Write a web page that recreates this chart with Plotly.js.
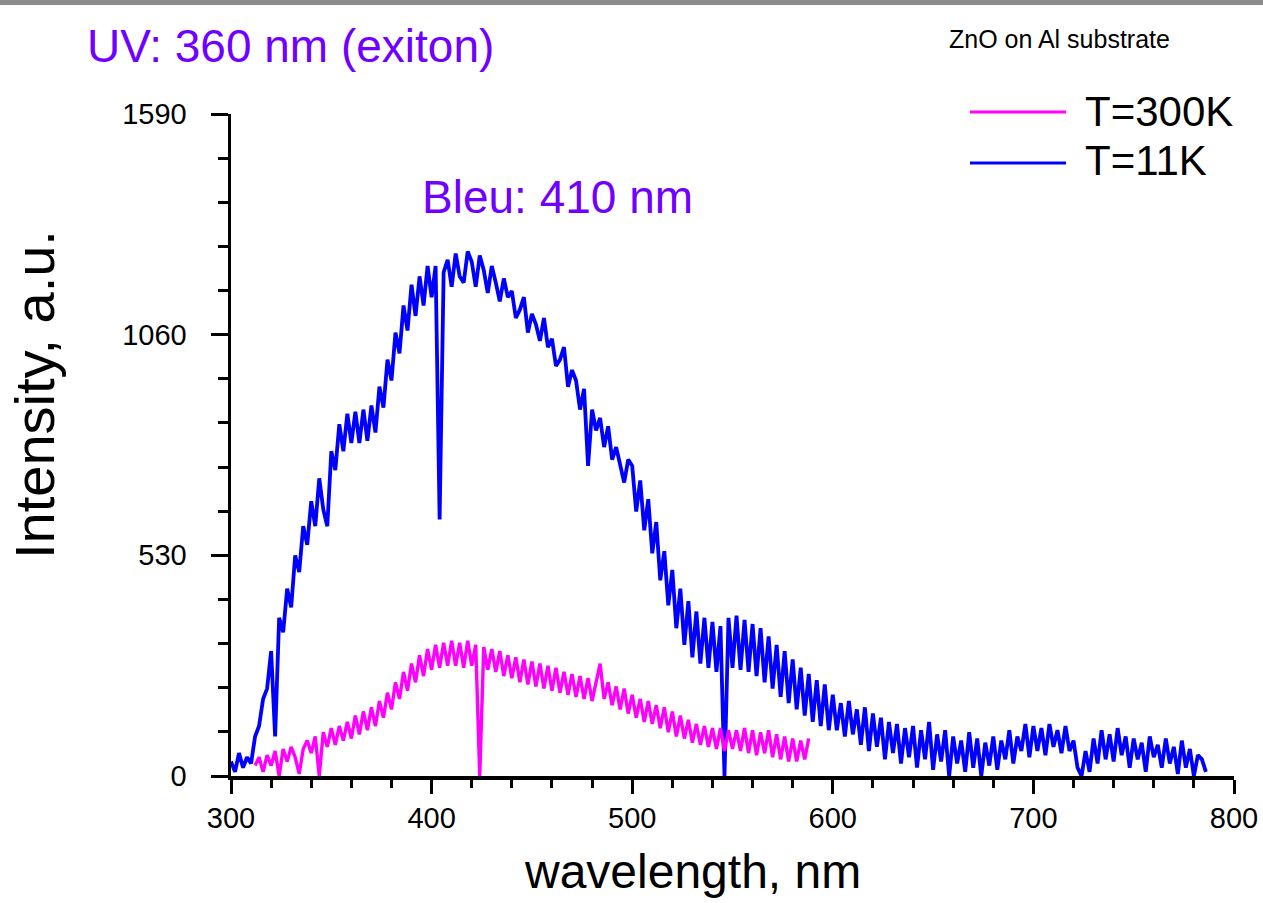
<!DOCTYPE html>
<html>
<head>
<meta charset="utf-8">
<script src="https://cdn.plot.ly/plotly-3.0.1.min.js"></script>
<style>
  html, body { margin: 0; padding: 0; background: #ffffff; }
  #chart { width: 1263px; height: 903px; }
</style>
</head>
<body>
<div id="chart"></div>
<script>
// ---- Data ----
const seriesNames = ["T=300K", "T=11K"];
const seriesColors = ["#ff00ff", "#0000ff"];

// T=11K spectrum, sampled every 2 nm starting at 300 nm
const blueStart = 300;
const blueStep = 2;
const blueIntensity = [
  35, 10, 55, 20, 45, 30, 95, 120, 185, 210,
  300, 95, 380, 345, 450, 405, 530, 490, 600, 555,
  660, 600, 715, 640, 600, 780, 735, 845, 780, 870,
  800, 875, 800, 880, 805, 890, 825, 935, 885, 1000,
  950, 1065, 1015, 1130, 1070, 1180, 1105, 1200, 1130, 1225,
  1150, 1225, 616, 1210, 1240, 1175, 1255, 1200, 1185, 1260,
  1235, 1175, 1250, 1215, 1160, 1225, 1185, 1140, 1195, 1150,
  1165, 1100, 1120, 1150, 1065, 1110, 1085, 1045, 1100, 1030,
  1050, 985, 1000, 1030, 935, 975, 950, 880, 930, 745,
  880, 830, 860, 790, 840, 760, 790, 745, 705, 760,
  745, 635, 710, 590, 665, 535, 610, 470, 540, 410,
  495, 355, 450, 315, 420, 285, 395, 270, 380, 260,
  370, 250, 360, 0, 380, 260, 385, 255, 375, 250,
  365, 240, 355, 225, 335, 210, 315, 190, 300, 175,
  280, 160, 260, 145, 245, 130, 230, 120, 220, 110,
  195, 110, 175, 95, 180, 100, 160, 75, 165, 60,
  150, 70, 140, 40, 130, 55, 125, 30, 115, 45,
  120, 20, 110, 40, 130, 15, 100, 35, 110, 0,
  95, 30, 85, 10, 105, 20, 90, 0, 80, 25,
  95, 15, 85, 40, 110, 30, 95, 60, 125, 45,
  120, 60, 115, 50, 125, 70, 110, 55, 120, 60,
  85, 20, 0, 60, 10, 90, 30, 110, 40, 100,
  35, 115, 50, 95, 20, 90, 40, 80, 10, 95,
  45, 75, 20, 90, 30, 70, 5, 85, 20, 65,
  0, 50, 40, 10
];

// T=300K spectrum, sampled every 2 nm starting at 312 nm
const pinkStart = 312;
const pinkStep = 2;
const pinkIntensity = [
  25, 45, 10, 50, 25, 60, 0, 65, 35, 70,
  45, 5, 65, 85, 55, 95, 0, 105, 70, 115,
  75, 120, 85, 130, 90, 145, 100, 155, 110, 165,
  120, 180, 140, 200, 160, 225, 185, 250, 205, 270,
  225, 290, 240, 305, 255, 315, 260, 320, 265, 325,
  265, 320, 260, 325, 265, 315, 0, 310, 255, 305,
  250, 300, 240, 290, 235, 285, 225, 280, 220, 275,
  215, 270, 210, 265, 205, 260, 200, 250, 195, 245,
  190, 240, 185, 235, 180, 230, 270, 185, 225, 170,
  215, 160, 210, 150, 195, 140, 185, 130, 180, 125,
  170, 115, 165, 105, 155, 95, 145, 90, 135, 80,
  125, 75, 120, 70, 115, 65, 115, 60, 110, 65,
  110, 60, 115, 55, 110, 50, 105, 55, 110, 45,
  100, 40, 95, 35, 90, 35, 85, 40, 90
];

// Axis ticks
const xTickVals = [300, 400, 500, 600, 700, 800];
const yTickVals = [0, 530, 1060, 1590];
const yTickText = ["0", "530", "1060", "1590"];

// Text
const xTitle = "wavelength, nm";
const yTitle = "Intensity, a.u.";
const uvNote = "UV: 360 nm (exiton)";
const blueNote = "Bleu: 410 nm";
const sampleNote = "ZnO on Al substrate";

// ---- Build traces ----
const blueX = blueIntensity.map((_, i) => blueStart + i * blueStep);
const pinkX = pinkIntensity.map((_, i) => pinkStart + i * pinkStep);

const traces = [
  {
    x: blueX, y: blueIntensity, type: "scatter", mode: "lines",
    name: seriesNames[1],
    line: { color: seriesColors[1], width: 3.8 },
    showlegend: false
  },
  {
    x: pinkX, y: pinkIntensity, type: "scatter", mode: "lines",
    name: seriesNames[0],
    line: { color: seriesColors[0], width: 3.4 },
    showlegend: false
  }
];

const FONT = "Liberation Sans, Arial, sans-serif";
const PURPLE = "#7000ff";

// plot area in pixels: left 231, right 1234, top 114, bottom 776
const L = 231, R = 1234, T = 114, B = 776;
const px = (x) => (x - L) / (R - L);
const py = (y) => (B - y) / (B - T);

const layout = {
  width: 1263,
  height: 903,
  margin: { l: L, r: 1263 - R, t: T, b: 903 - B, pad: 0 },
  paper_bgcolor: "#ffffff",
  plot_bgcolor: "#ffffff",
  showlegend: false,
  font: { family: FONT, color: "#000000" },
  xaxis: {
    range: [300, 800],
    tickvals: xTickVals,
    showline: true, linecolor: "#000000", linewidth: 3.5,
    ticks: "outside", ticklen: 14, tickwidth: 3, tickcolor: "#000000",
    showgrid: false, zeroline: false,
    tickfont: { family: FONT, size: 29, color: "#000000" },
    minor: { tick0: 300, dtick: 20, ticks: "outside", ticklen: 8, tickwidth: 3, tickcolor: "#000000", showgrid: false }
  },
  yaxis: {
    range: [0, 1590],
    tickvals: yTickVals,
    ticktext: yTickText,
    showline: true, linecolor: "#000000", linewidth: 3.5,
    ticks: "outside", ticklen: 17, tickwidth: 3, tickcolor: "#000000",
    ticklabelstandoff: 18,
    showgrid: false, zeroline: false,
    tickfont: { family: FONT, size: 29, color: "#000000" },
    minor: { tick0: 0, dtick: 106, ticks: "outside", ticklen: 10, tickwidth: 3, tickcolor: "#000000", showgrid: false }
  },
  shapes: [
    // grey band at the top of the slide
    { type: "rect", xref: "paper", yref: "paper",
      x0: px(0), x1: px(1263), y0: py(5), y1: py(0),
      fillcolor: "#8c8c8c", line: { width: 0 }, layer: "above" },
    // legend samples
    { type: "line", xref: "paper", yref: "paper",
      x0: px(970), x1: px(1066), y0: py(112), y1: py(112),
      line: { color: seriesColors[0], width: 3 } },
    { type: "line", xref: "paper", yref: "paper",
      x0: px(970), x1: px(1066), y0: py(163), y1: py(163),
      line: { color: seriesColors[1], width: 3 } }
  ],
  annotations: [
    { text: uvNote, xref: "paper", yref: "paper", x: px(85), y: py(46),
      xanchor: "left", yanchor: "middle", showarrow: false,
      font: { family: FONT, size: 46, color: PURPLE } },
    { text: blueNote, xref: "paper", yref: "paper", x: px(557), y: py(197),
      xanchor: "center", yanchor: "middle", showarrow: false,
      font: { family: FONT, size: 46, color: PURPLE } },
    { text: sampleNote, xref: "paper", yref: "paper", x: px(1059), y: py(39),
      xanchor: "center", yanchor: "middle", showarrow: false,
      font: { family: FONT, size: 25, color: "#000000" } },
    { text: seriesNames[0], xref: "paper", yref: "paper", x: px(1083), y: py(112),
      xanchor: "left", yanchor: "middle", showarrow: false,
      font: { family: FONT, size: 42, color: "#000000" } },
    { text: seriesNames[1], xref: "paper", yref: "paper", x: px(1083), y: py(160),
      xanchor: "left", yanchor: "middle", showarrow: false,
      font: { family: FONT, size: 42, color: "#000000" } },
    { text: xTitle, xref: "paper", yref: "paper", x: px(692), y: py(871),
      xanchor: "center", yanchor: "middle", showarrow: false,
      font: { family: FONT, size: 48, color: "#000000" } },
    { text: yTitle, xref: "paper", yref: "paper", x: px(34), y: py(395),
      xanchor: "center", yanchor: "middle", showarrow: false, textangle: -90,
      font: { family: FONT, size: 56, color: "#000000" } }
  ]
};

Plotly.newPlot("chart", traces, layout, { displayModeBar: false, staticPlot: true });
</script>
</body>
</html>
